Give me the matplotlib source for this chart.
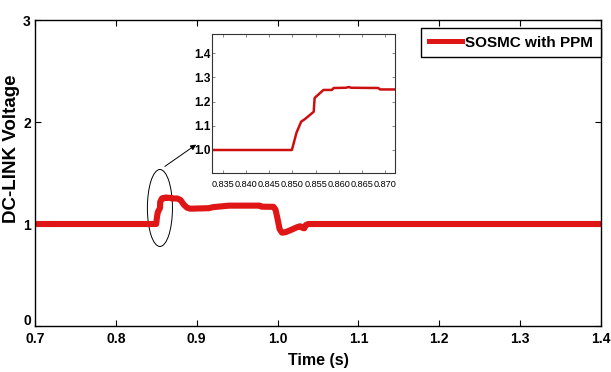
import matplotlib
matplotlib.use("Agg")
import matplotlib.pyplot as plt
import matplotlib.transforms as mtransforms
from matplotlib.patches import Ellipse

# ---- data ----
time_s = [0.700, 0.8499, 0.8509, 0.8519, 0.8528, 0.8546, 0.8548, 0.8556, 0.8567,
          0.8585, 0.8589, 0.8615, 0.8621, 0.8627, 0.8685, 0.8689, 0.8760, 0.8800,
          0.8840, 0.8880, 0.8920, 0.9150, 0.9200, 0.9400, 0.9780, 0.9800, 0.9950,
          0.9975, 1.0000, 1.0025, 1.0055, 1.0100, 1.0160, 1.0240, 1.0280, 1.0310,
          1.0330, 1.0350, 1.0380, 1.400]
voltage = [1.000, 1.000, 1.072, 1.117, 1.129, 1.158, 1.215, 1.229, 1.248,
           1.248, 1.256, 1.257, 1.260, 1.257, 1.256, 1.250, 1.250, 1.235,
           1.190, 1.160, 1.150, 1.155, 1.165, 1.180, 1.180, 1.170, 1.168,
           1.140, 1.050, 0.950, 0.915, 0.920, 0.940, 0.968, 0.978, 0.962,
           0.958, 0.990, 1.000, 1.000]
series_label = "SOSMC with PPM"
x_ticks = [0.7, 0.8, 0.9, 1.0, 1.1, 1.2, 1.3, 1.4]
x_tick_labels = ["0.7", "0.8", "0.9", "1.0", "1.1", "1.2", "1.3", "1.4"]
y_ticks = [0, 1, 2, 3]
inset_x_ticks = [0.835, 0.840, 0.845, 0.850, 0.855, 0.860, 0.865, 0.870]
inset_y_ticks = [1.0, 1.1, 1.2, 1.3, 1.4]

FONT = ['Liberation Sans', 'DejaVu Sans']

W, H = 611, 372
fig = plt.figure(figsize=(W / 100, H / 100), dpi=100)
fig.patch.set_facecolor('white')

def fr(x0, y0, x1, y1):
    return [x0 / W, 1 - y1 / H, (x1 - x0) / W, (y1 - y0) / H]

ax = fig.add_axes(fr(35, 20, 601, 326))
ax.plot(time_s, voltage, color='#e01515', lw=4.4, solid_joinstyle='round',
        label=series_label)
ax.set_xlim(0.7, 1.4)
ax.set_ylim(0, 3)
ax.set_xticks(x_ticks)
ax.set_xticklabels(x_tick_labels)
ax.set_yticks(y_ticks)
ax.tick_params(direction='in', top=True, right=True, length=4, width=0.8,
               pad=4)
ax.tick_params(axis='y', pad=3)
for lab in ax.get_xticklabels() + ax.get_yticklabels():
    lab.set_fontfamily(FONT)
    lab.set_fontweight('bold')
    lab.set_fontsize(10)
# raise the "0" y tick label a little, as in the reference
zero_lab = ax.get_yticklabels()[0]
zero_lab.set_transform(zero_lab.get_transform() +
                       mtransforms.ScaledTranslation(0, 5 / 72, fig.dpi_scale_trans))
for sp in ax.spines.values():
    sp.set_linewidth(1.0)
    sp.set_color('black')

ax.set_xlabel("Time (s)", fontfamily=FONT, fontweight='bold', fontsize=11.5,
              labelpad=5)
ax.set_ylabel("DC-LINK Voltage", fontfamily=FONT, fontweight='bold',
              fontsize=13.5)
ax.yaxis.set_label_coords((20 - 35) / 566, 0.58)

leg = ax.legend(loc='upper right', bbox_to_anchor=(601 / W, 1 - 28 / H),
                bbox_transform=fig.transFigure, frameon=True, fancybox=False,
                edgecolor='black', framealpha=1, handlelength=2.2,
                handletextpad=0.2, borderpad=0.5, borderaxespad=0,
                prop={'family': FONT, 'weight': 'bold', 'size': 11})
leg.get_frame().set_linewidth(1.0)
for h in leg.get_lines():
    h.set_linewidth(3.6)

# ellipse and arrow
ax.add_patch(Ellipse((0.8545, 1.157), 0.031, 0.755, fill=False,
                     edgecolor='black', lw=0.7))
ax.annotate("", xy=(0.9021, 1.794), xytext=(0.8578, 1.549),
            arrowprops=dict(arrowstyle='-|>', color='black', lw=0.7,
                            mutation_scale=8))

# inset
ins = fig.add_axes(fr(212, 34, 395, 173))
ins.plot(time_s, voltage, color='#cc1010', lw=1.8)
ins.set_xlim(0.8327, 0.8721)
ins.set_ylim(0.905, 1.479)
ins.set_xticks(inset_x_ticks)
ins.set_xticklabels(["%.3f" % v for v in inset_x_ticks])
ins.set_yticks(inset_y_ticks)
ins.set_yticklabels(["%.1f" % v for v in inset_y_ticks])
ins.tick_params(direction='in', top=True, right=True, length=2.5, width=0.5,
                colors='#555555', labelcolor='black')
ins.tick_params(axis='y', pad=1)
ins.tick_params(axis='x', pad=5)
for lab in ins.get_xticklabels():
    lab.set_fontfamily(FONT)
    lab.set_fontsize(6.6)
for lab in ins.get_yticklabels():
    lab.set_fontfamily(FONT)
    lab.set_fontsize(8.5)
    lab.set_fontweight('bold')
for sp in ins.spines.values():
    sp.set_linewidth(0.8)
    sp.set_color('#333333')

fig.savefig("out.png", dpi=100)
